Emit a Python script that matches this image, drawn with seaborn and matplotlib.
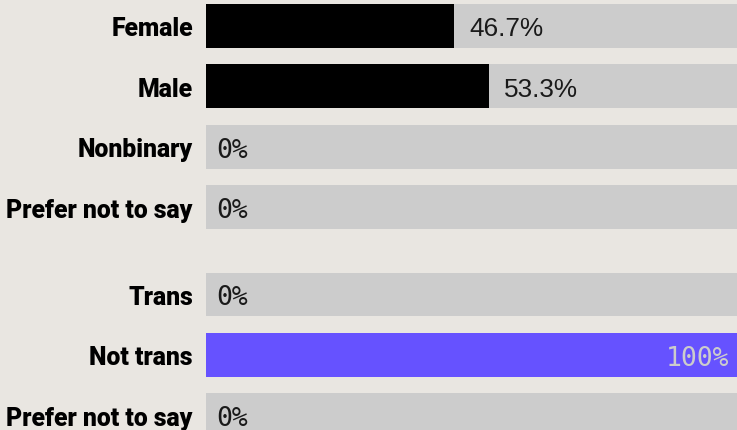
import numpy as np
import matplotlib.pyplot as plt
import seaborn as sns
import pandas as pd

labels = ["Female", "Male", "Nonbinary", "Prefer not to say",
          "Trans", "Not trans", "Prefer not to say"]
values = [46.7, 53.3, 0, 0, 0, 100, 0]
groups = ["gender", "gender", "gender", "gender", "trans", "trans", "trans"]
value_text = ["46.7%", "53.3%", "0%", "0%", "0%", "100%", "0%"]
positions = [0, 1, 2, 3, 4.44, 5.44, 6.44]

BG = "#e9e6e1"
TRACK = "#cccccc"
colors = {"gender": "#000000", "trans": "#6652ff"}

df = pd.DataFrame({"label": labels, "value": values, "group": groups,
                   "pos": positions, "full": [100] * len(labels)})

sns.set_theme(style="white")
fig = plt.figure(figsize=(7.37, 4.31), dpi=100, facecolor=BG)
ax = fig.add_axes([206 / 737, 0, 531 / 737, 1])
ax.set_facecolor(BG)

sns.barplot(data=df, x="full", y="pos", orient="y", native_scale=True,
            color=TRACK, width=0.727, saturation=1, linewidth=0, ax=ax)
sns.barplot(data=df, x="value", y="pos", orient="y", native_scale=True,
            hue="group", palette=colors, dodge=False, legend=False,
            width=0.727, saturation=1, linewidth=0, ax=ax)

ax.set_xlim(0, 100)
ax.set_ylim(6.68, -0.445)
ax.set_yticks(positions, labels)
for t in ax.get_yticklabels():
    t.set_fontfamily("Roboto")
    t.set_fontweight("heavy")
    t.set_fontsize(17.8)
    t.set_color("#000000")
    t.set_verticalalignment("center_baseline")
ax.tick_params(axis="y", length=0, pad=9.4)
ax.set_xticks([])
ax.set_xlabel("")
ax.set_ylabel("")
sns.despine(ax=ax, left=True, bottom=True)

for p, v, s in zip(positions, values, value_text):
    if v >= 100:
        ax.text(98.6, p, s, ha="right", va="center_baseline", fontsize=19,
                family="DejaVu Sans Mono", color=TRACK)
    elif v == 0:
        ax.text(v + 2.0, p, s, ha="left", va="center_baseline", fontsize=19,
                family="DejaVu Sans Mono", color="#1a1a1a")
    else:
        ax.text(v + 2.9, p, s, ha="left", va="center_baseline", fontsize=18.8,
                family="Liberation Sans", color="#1a1a1a")

plt.savefig("out.png", dpi=100, facecolor=BG)
